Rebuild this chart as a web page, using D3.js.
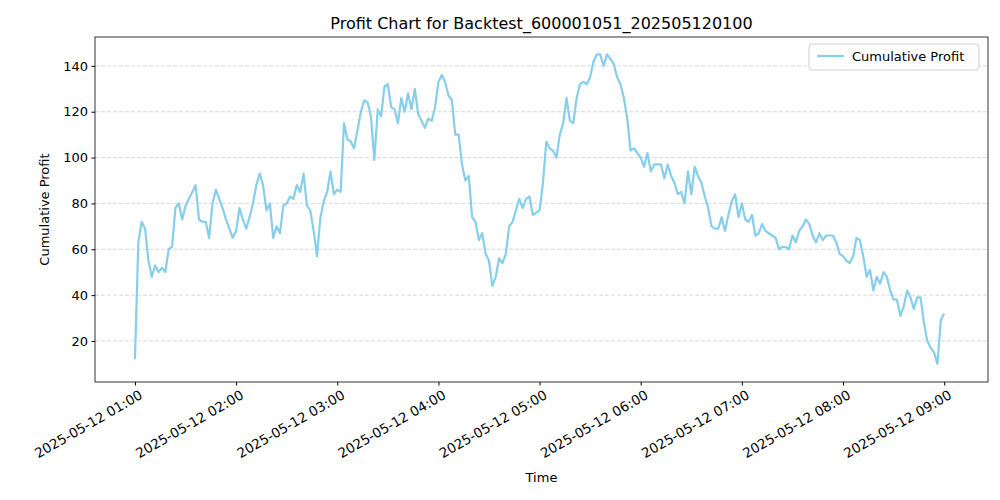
<!DOCTYPE html>
<html>
<head>
<meta charset="utf-8">
<script src="https://cdn.jsdelivr.net/npm/d3@7"></script>
<style>
  body { margin: 0; background: #fff; }
  text { font-family: "DejaVu Sans", sans-serif; }
</style>
</head>
<body>
<div id="chart"></div>
<script>
// profit sampled every 2 minutes from 01:00 to 09:00
var hour1to3 = [12, 63, 72, 69, 55, 48, 53, 50, 52, 50, 60, 61, 78, 80, 73, 79, 82, 85, 88, 73,
  72, 72, 65, 80, 86, 82, 78, 73, 69, 65, 68, 78, 73, 69, 74, 80, 88, 93, 88, 77,
  80, 65, 70, 67, 79, 80, 83, 82, 88, 85, 93, 79, 77, 68, 57, 74, 81, 85, 94, 84, 86];
var hour3to5 = [85, 115, 108, 107, 104, 112, 120, 125, 124, 118, 99, 121, 118, 131, 132, 122, 121, 115, 126, 120,
  128, 121, 130, 119, 116, 113, 117, 116, 122, 133, 136, 133, 127, 125, 110, 110, 97, 90, 92, 74,
  72, 64, 67, 58, 55, 44, 48, 56, 54, 58, 70, 72, 77, 82, 78, 82, 83, 75, 76];
var hour5to7 = [77, 89, 107, 104, 103, 100, 110, 115, 126, 116, 115, 126, 132, 133, 132, 135, 142, 145, 145, 140,
  145, 143, 141, 135, 132, 126, 117, 103, 104, 102, 100, 96, 102, 94, 97, 97, 97, 91, 97, 92,
  89, 84, 85, 80, 94, 84, 96, 92, 89, 83, 78, 70, 69, 69, 74, 68, 75, 81, 84, 74];
var hour7to9 = [80, 73, 72, 75, 66, 67, 71, 68, 67, 66, 65, 60, 61, 61, 60, 66, 63, 68, 70, 73,
  71, 66, 63, 67, 64, 66, 66, 66, 63, 58, 57, 55, 54, 57, 65, 64, 57, 48, 51, 42,
  48, 45, 50, 48, 42, 38, 38, 31, 35, 42, 39, 34, 39, 39, 28, 20, 17, 15, 10, 29, 32];
var profit = hour1to3.concat(hour3to5, hour5to7, hour7to9);
var stepMinutes = 2;

var tickMinutes = [0, 60, 120, 180, 240, 300, 360, 420, 480];
var tickLabels = ["2025-05-12 01:00", "2025-05-12 02:00", "2025-05-12 03:00", "2025-05-12 04:00",
  "2025-05-12 05:00", "2025-05-12 06:00", "2025-05-12 07:00", "2025-05-12 08:00", "2025-05-12 09:00"];
var yTicks = [20, 40, 60, 80, 100, 120, 140];

var W = 1000, H = 500;
var m = { left: 95, right: 12, top: 37, bottom: 118 };

var svg = d3.select("#chart").append("svg").attr("width", W).attr("height", H);

var x = d3.scaleLinear().domain([-23.7, 506]).range([m.left, W - m.right]);
var y = d3.scaleLinear().domain([2.1, 152.6]).range([H - m.bottom, m.top]);

// horizontal grid
svg.append("g").selectAll("line").data(yTicks).enter().append("line")
  .attr("x1", m.left).attr("x2", W - m.right)
  .attr("y1", function (d) { return y(d); }).attr("y2", function (d) { return y(d); })
  .attr("stroke", "#cfcfcf").attr("stroke-width", 0.8).attr("stroke-dasharray", "4,2");

var line = d3.line()
  .x(function (d, i) { return x(i * stepMinutes); })
  .y(function (d) { return y(d); });

svg.append("path").datum(profit).attr("d", line)
  .attr("fill", "none").attr("stroke", "#87CEEB").attr("stroke-width", 2.2)
  .attr("stroke-linejoin", "round");

// frame
svg.append("rect").attr("x", m.left).attr("y", m.top)
  .attr("width", W - m.left - m.right).attr("height", H - m.top - m.bottom)
  .attr("fill", "none").attr("stroke", "#000").attr("stroke-width", 0.8);

// y axis
var yAxis = svg.append("g").attr("transform", "translate(" + m.left + ",0)")
  .call(d3.axisLeft(y).tickValues(yTicks).tickSize(3.5).tickPadding(3.5));
yAxis.select(".domain").remove();
yAxis.selectAll("text").attr("font-size", 13).attr("fill", "#000")
  .style("font-family", "DejaVu Sans");

// x axis
var xAxis = svg.append("g").attr("transform", "translate(0," + (H - m.bottom) + ")")
  .call(d3.axisBottom(x).tickValues(tickMinutes).tickSize(3.5)
    .tickFormat(function (d, i) { return tickLabels[i]; }));
xAxis.select(".domain").remove();
xAxis.selectAll("text").attr("font-size", 13.5).attr("fill", "#000")
  .style("font-family", "DejaVu Sans")
  .attr("text-anchor", "end").attr("y", 0).attr("dy", "0.75em")
  .attr("transform", "translate(3,7) rotate(-30)");

// titles
svg.append("text").attr("x", (m.left + W - m.right) / 2).attr("y", 29)
  .attr("text-anchor", "middle").attr("font-size", 16).text("Profit Chart for Backtest_600001051_202505120100");
svg.append("text").attr("x", (m.left + W - m.right) / 2).attr("y", 482)
  .attr("text-anchor", "middle").attr("font-size", 13).text("Time");
svg.append("text").attr("transform", "translate(49," + ((m.top + H - m.bottom) / 2) + ") rotate(-90)")
  .attr("text-anchor", "middle").attr("font-size", 13).text("Cumulative Profit");

// legend
var lg = svg.append("g").attr("transform", "translate(809,44)");
lg.append("rect").attr("width", 170).attr("height", 26).attr("rx", 3)
  .attr("fill", "#fff").attr("fill-opacity", 0.8).attr("stroke", "#d0d0d0");
lg.append("line").attr("x1", 8).attr("x2", 35).attr("y1", 12).attr("y2", 12)
  .attr("stroke", "#87CEEB").attr("stroke-width", 2.2);
lg.append("text").attr("x", 43).attr("y", 17).attr("font-size", 13).text("Cumulative Profit");
</script>
</body>
</html>
